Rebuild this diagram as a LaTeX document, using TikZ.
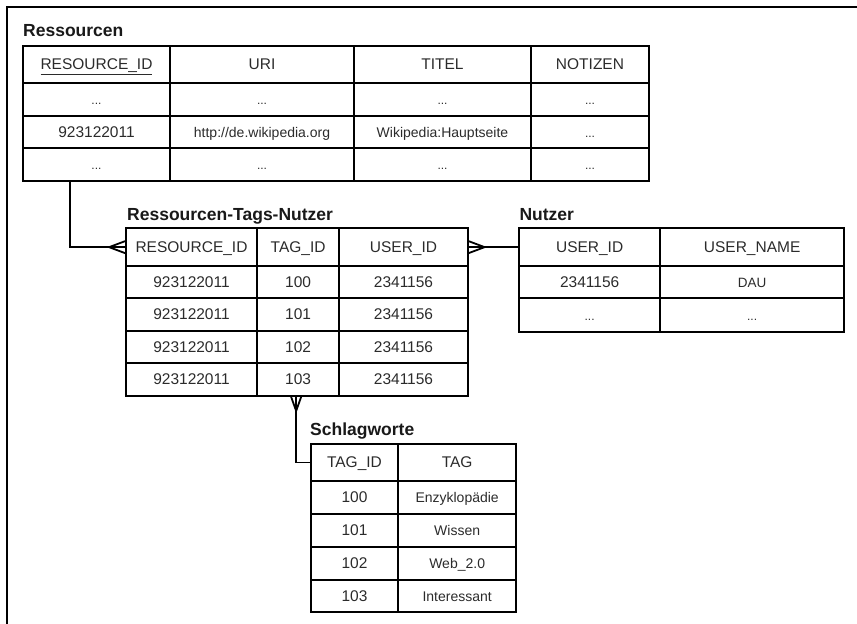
\documentclass[tikz,border=0pt]{standalone}
\usepackage{fontspec}
\setmainfont{Liberation Sans}
\usetikzlibrary{calc}
\definecolor{txt}{HTML}{2B2B2B}
\newcommand\mkcell[7][]{%
  \pgfmathsetmacro\mkcx{(#3+#5)/2}\pgfmathsetmacro\mkcy{(#4+#6)/2}%
  \pgfmathsetmacro\mkcw{#5-#3}\pgfmathsetmacro\mkch{#6-#4}%
  \node[cell,#1,minimum width=\mkcw pt,minimum height=\mkch pt] (#2) at (\mkcx,\mkcy) {#7};}
\begin{document}
\begin{tikzpicture}[x=1pt,y=-1pt,
  cell/.style={draw=black, line width=1.8pt, inner sep=0pt, text=txt,
    text height=10.5pt, text depth=0pt, font=\fontsize{15.5}{18}\selectfont},
  val/.style={font=\fontsize{14}{17}\selectfont},
  sval/.style={font=\fontsize{13.5}{16}\selectfont},
  dots/.style={font=\fontsize{12}{14}\selectfont},
  ttl/.style={anchor=base west, inner sep=0pt, text=black!90,
    font=\bfseries\fontsize{17.5}{20}\selectfont},
  link/.style={line width=1.8pt},
  frame/.style={line width=2pt}]
\useasboundingbox (0,0) rectangle (857,624);
\draw[frame] (7,624) -- (7,7) -- (857,7);

% ---------- Ressourcen ----------
\node[ttl] (tres) at (23,36) {Ressourcen};
\mkcell{r11}{23}{46}{170}{83}{\underline{RESOURCE\_ID}}
\mkcell{r12}{170}{46}{354}{83}{URI}
\mkcell{r13}{354}{46}{531}{83}{TITEL}
\mkcell{r14}{531}{46}{649}{83}{NOTIZEN}
\mkcell[dots]{r21}{23}{83}{170}{116}{...}
\mkcell[dots]{r22}{170}{83}{354}{116}{...}
\mkcell[dots]{r23}{354}{83}{531}{116}{...}
\mkcell[dots]{r24}{531}{83}{649}{116}{...}
\mkcell{r31}{23}{116}{170}{148}{923122011}
\mkcell[val]{r32}{170}{116}{354}{148}{http://de.wikipedia.org}
\mkcell[val]{r33}{354}{116}{531}{148}{Wikipedia:Hauptseite}
\mkcell[dots]{r34}{531}{116}{649}{148}{...}
\mkcell[dots]{r41}{23}{148}{170}{181}{...}
\mkcell[dots]{r42}{170}{148}{354}{181}{...}
\mkcell[dots]{r43}{354}{148}{531}{181}{...}
\mkcell[dots]{r44}{531}{148}{649}{181}{...}

% ---------- Ressourcen-Tags-Nutzer ----------
\node[ttl] (trtn) at (127,220.7) {Ressourcen-Tags-Nutzer};
\mkcell{t11}{126}{228.3}{257}{266}{RESOURCE\_ID}
\mkcell{t12}{257}{228.3}{339.3}{266}{TAG\_ID}
\mkcell{t13}{339.3}{228.3}{467.7}{266}{USER\_ID}
\mkcell{t21}{126}{266}{257}{298.3}{923122011}
\mkcell{t22}{257}{266}{339.3}{298.3}{100}
\mkcell{t23}{339.3}{266}{467.7}{298.3}{2341156}
\mkcell{t31}{126}{298.3}{257}{330.7}{923122011}
\mkcell{t32}{257}{298.3}{339.3}{330.7}{101}
\mkcell{t33}{339.3}{298.3}{467.7}{330.7}{2341156}
\mkcell{t41}{126}{330.7}{257}{363.3}{923122011}
\mkcell{t42}{257}{330.7}{339.3}{363.3}{102}
\mkcell{t43}{339.3}{330.7}{467.7}{363.3}{2341156}
\mkcell{t51}{126}{363.3}{257}{396}{923122011}
\mkcell{t52}{257}{363.3}{339.3}{396}{103}
\mkcell{t53}{339.3}{363.3}{467.7}{396}{2341156}

% ---------- Nutzer ----------
\node[ttl] (tnut) at (519.3,220) {Nutzer};
\mkcell{n11}{519.3}{228.3}{660}{266}{USER\_ID}
\mkcell{n12}{660}{228.3}{844.3}{266}{USER\_NAME}
\mkcell{n21}{519.3}{266}{660}{298.3}{2341156}
\mkcell[sval]{n22}{660}{266}{844.3}{298.3}{DAU}
\mkcell[dots]{n31}{519.3}{298.3}{660}{331.7}{...}
\mkcell[dots]{n32}{660}{298.3}{844.3}{331.7}{...}

% ---------- Schlagworte ----------
\node[ttl] (tsch) at (310,435) {Schlagworte};
\mkcell{s11}{310.7}{444}{398.3}{481}{TAG\_ID}
\mkcell{s12}{398.3}{444}{516}{481}{TAG}
\mkcell{s21}{310.7}{481}{398.3}{514.3}{100}
\mkcell[val]{s22}{398.3}{481}{516}{514.3}{Enzyklopädie}
\mkcell{s31}{310.7}{514.3}{398.3}{546.7}{101}
\mkcell[val]{s32}{398.3}{514.3}{516}{546.7}{Wissen}
\mkcell{s41}{310.7}{546.7}{398.3}{580}{102}
\mkcell[val]{s42}{398.3}{546.7}{516}{580}{Web\_2.0}
\mkcell{s51}{310.7}{580}{398.3}{612.3}{103}
\mkcell[val]{s52}{398.3}{580}{516}{612.3}{Interessant}

% ---------- connectors ----------
% Ressourcen -> Ressourcen-Tags-Nutzer (many)
\coordinate (rfk) at ([xshift=47.7pt]r41.south west);
\coordinate (cfa) at ([xshift=-16pt]t11.west);
\draw[link] (rfk) |- (t11.west);
\draw[link] (cfa) -- ([yshift=6pt]t11.west);
\draw[link] (cfa) -- ([yshift=-6pt]t11.west);

% Nutzer -> Ressourcen-Tags-Nutzer (many)
\coordinate (cfb) at ([xshift=16pt]t13.east);
\draw[link] (t13.east) -- (n11.west);
\draw[link] (cfb) -- ([yshift=6pt]t13.east);
\draw[link] (cfb) -- ([yshift=-6pt]t13.east);

% Schlagworte -> Ressourcen-Tags-Nutzer (many)
\coordinate (tfk) at ([xshift=-2pt]t52.south);
\coordinate (cfc) at ([yshift=-14pt]tfk);
\draw[link] (tfk) |- (s11.west);
\draw[link] (cfc) -- ([xshift=5pt]tfk);
\draw[link] (cfc) -- ([xshift=-5pt]tfk);
\end{tikzpicture}
\end{document}
